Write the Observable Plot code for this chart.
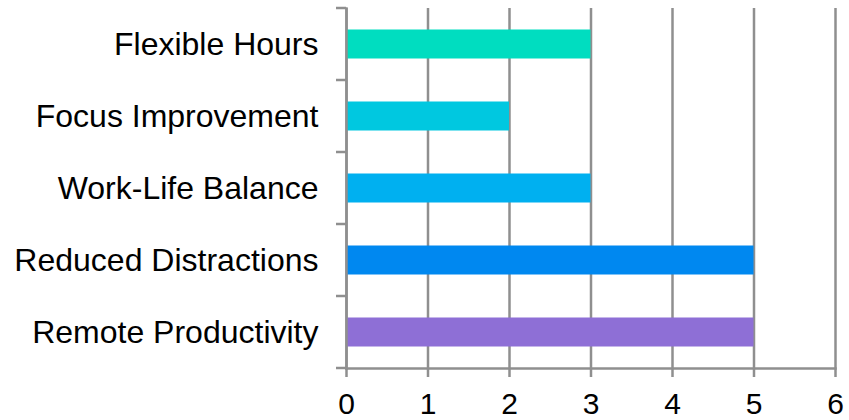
<!DOCTYPE html>
<html>
<head>
<meta charset="utf-8">
<script src="https://cdn.jsdelivr.net/npm/d3@7"></script>
<script src="https://cdn.jsdelivr.net/npm/@observablehq/plot@0.6"></script>
<style>
  html, body { margin: 0; padding: 0; background: #fff; }
</style>
</head>
<body>
<div id="chart"></div>
<script>
const categories = ["Flexible Hours", "Focus Improvement", "Work-Life Balance", "Reduced Distractions", "Remote Productivity"];
const values = [3, 2, 3, 5, 5];
const colors = ["#00DDC0", "#00C8E0", "#00B0F0", "#0088F0", "#8E6FD6"];
const xTicks = [0, 1, 2, 3, 4, 5, 6];

const data = categories.map((c, i) => ({category: c, value: values[i]}));
const gray = "#8f8f8f";
const sw = 2.5;

const leftTicks = (index, scales, vals, dims) => {
  const y = scales.y;
  const step = y(categories[1]) - y(categories[0]);
  const bounds = categories.map(c => y(c)).concat([y(categories[categories.length - 1]) + step]);
  const g = d3.create("svg:g");
  g.selectAll("line").data(bounds).join("line")
    .attr("x1", dims.marginLeft - 10).attr("x2", dims.marginLeft)
    .attr("y1", d => d).attr("y2", d => d)
    .attr("stroke", gray).attr("stroke-width", sw);
  return g.node();
};

const chart = Plot.plot({
  width: 849,
  height: 420,
  marginLeft: 346,
  marginRight: 14,
  marginTop: 8,
  marginBottom: 52,
  style: {fontFamily: "'Liberation Sans', Arial, sans-serif", fontSize: "32px", color: "#000", background: "#fff"},
  x: {domain: [0, 6], ticks: xTicks},
  y: {domain: categories, padding: 0},
  color: {domain: categories, range: colors},
  marks: [
    Plot.gridX(xTicks, {stroke: gray, strokeOpacity: 1, strokeWidth: sw}),
    Plot.barX(data, {x: "value", y: "category", fill: "category", insetTop: 21.5, insetBottom: 21.5}),
    Plot.frame({anchor: "left", stroke: gray, strokeWidth: sw}),
    Plot.frame({anchor: "bottom", stroke: gray, strokeWidth: sw}),
    leftTicks,
    Plot.axisX({ticks: xTicks, tickFormat: "d", tickSize: 9, tickPadding: 15, stroke: gray, strokeWidth: sw, strokeOpacity: 1, fontSize: 30, label: null}),
    Plot.axisY({tickSize: 0, tickPadding: 28, fontSize: 32, label: null})
  ]
});
document.getElementById("chart").appendChild(chart);
</script>
</body>
</html>
